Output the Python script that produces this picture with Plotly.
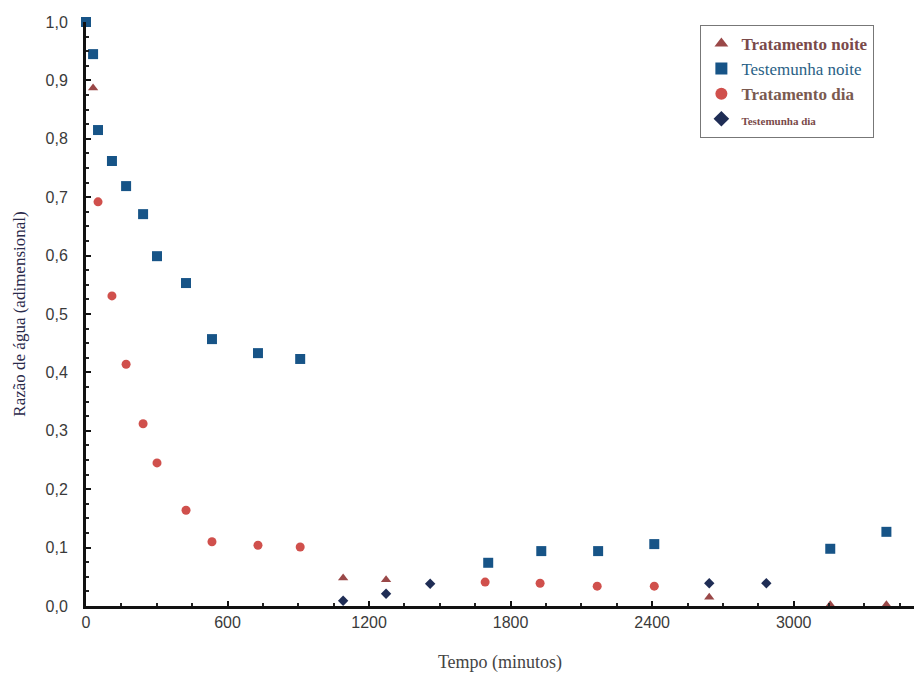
import plotly.graph_objects as go

# Data (tempo em minutos, razão de água adimensional)
testemunha_noite_x = [0, 30, 51, 110, 170, 242, 301, 424, 534, 729, 908, 1705, 1930, 2171, 2409, 3155, 3393]
testemunha_noite_y = [1.0, 0.945, 0.815, 0.762, 0.719, 0.671, 0.599, 0.553, 0.457, 0.433, 0.423, 0.074, 0.094, 0.094, 0.106, 0.098, 0.127]

tratamento_dia_x = [51, 110, 170, 242, 301, 424, 534, 729, 908, 1692, 1925, 2167, 2409]
tratamento_dia_y = [0.692, 0.531, 0.414, 0.312, 0.245, 0.164, 0.110, 0.104, 0.101, 0.041, 0.039, 0.034, 0.034]

tratamento_noite_x = [30, 1090, 1272, 2642, 3155, 3393]
tratamento_noite_y = [0.887, 0.048, 0.045, 0.015, 0.002, 0.002]

testemunha_dia_x = [1090, 1272, 1459, 2642, 2884]
testemunha_dia_y = [0.009, 0.021, 0.038, 0.039, 0.039]

x_ticks = [0, 600, 1200, 1800, 2400, 3000]
x_ticklabels = ["0", "600", "1200", "1800", "2400", "3000"]
y_ticks = [0.0, 0.1, 0.2, 0.3, 0.4, 0.5, 0.6, 0.7, 0.8, 0.9, 1.0]
y_ticklabels = ["0,0", "0,1", "0,2", "0,3", "0,4", "0,5", "0,6", "0,7", "0,8", "0,9", "1,0"]

fig = go.Figure()
fig.add_trace(go.Scatter(
    x=tratamento_noite_x, y=tratamento_noite_y, mode="markers",
    name="<b><span style='color:#7a4a4a'>Tratamento noite</span></b>",
    marker=dict(symbol="triangle-up", size=9, color="#9a4848"), cliponaxis=False))
fig.add_trace(go.Scatter(
    x=testemunha_noite_x, y=testemunha_noite_y, mode="markers",
    name="<span style='color:#2a5f86'>Testemunha noite</span>",
    marker=dict(symbol="square", size=10, color="#175487"), cliponaxis=False))
fig.add_trace(go.Scatter(
    x=tratamento_dia_x, y=tratamento_dia_y, mode="markers",
    name="<b><span style='color:#7a5a50'>Tratamento dia</span></b>",
    marker=dict(symbol="circle", size=9, color="#d0504c"), cliponaxis=False))
fig.add_trace(go.Scatter(
    x=testemunha_dia_x, y=testemunha_dia_y, mode="markers",
    name="<b><span style='color:#7a4a4a;font-size:11px'>Testemunha dia</span></b>",
    marker=dict(symbol="diamond", size=8, color="#1f2d55"), cliponaxis=False))

fig.update_layout(
    width=914, height=681,
    margin=dict(l=86, r=0, t=22, b=75),
    plot_bgcolor="white", paper_bgcolor="white",
    font=dict(family="Liberation Sans", size=14, color="#333333"),
    showlegend=True,
    legend=dict(
        x=0.742, y=0.995, xanchor="left", yanchor="top",
        bgcolor="white", bordercolor="#777777", borderwidth=1,
        font=dict(family="Liberation Serif", size=17, color="#5a4a4a"),
        itemsizing="constant", tracegroupgap=0, itemwidth=30,
    ),
    xaxis=dict(
        range=[0, 3510], tickvals=x_ticks, ticktext=x_ticklabels,
        showgrid=False, zeroline=False,
        showline=True, linecolor="#111111", linewidth=3,
        ticks="inside", ticklen=5, tickcolor="#111111", tickwidth=2,
        minor=dict(ticks="inside", ticklen=3, tickcolor="#222222", dtick=150),
        tickfont=dict(family="Liberation Sans", size=16, color="#3a3a3a"),
        title=dict(text="Tempo (minutos)", font=dict(family="Liberation Serif", size=18, color="#444444"), standoff=26),
    ),
    yaxis=dict(
        range=[0, 1.0], tickvals=y_ticks, ticktext=y_ticklabels,
        showgrid=False, zeroline=False,
        showline=True, linecolor="#111111", linewidth=3,
        ticks="inside", ticklen=5, tickcolor="#111111", tickwidth=2,
        minor=dict(ticks="inside", ticklen=3, tickcolor="#222222", dtick=0.025),
        tickfont=dict(family="Liberation Sans", size=16, color="#3a3a3a"),
        ticklabelstandoff=12,
        title=dict(text="Razão de água (adimensional)", font=dict(family="Liberation Serif", size=17, color="#2a2a4a"), standoff=16),
    ),
)

fig.write_html("out.html")
